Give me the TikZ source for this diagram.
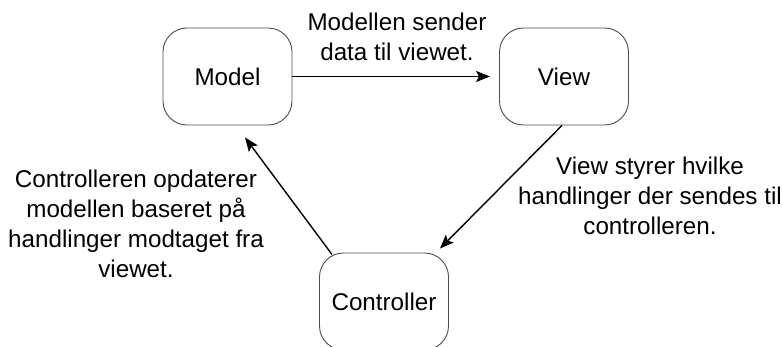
\documentclass[tikz,border=0pt]{standalone}
\usepackage{fontspec}
\setmainfont{Liberation Sans}
\usetikzlibrary{positioning,calc,arrows.meta}

\begin{document}
\begin{tikzpicture}[x=1pt, y=-1pt, font=\fontsize{24.2}{30}\selectfont,
    box/.style={draw=black!70, line width=0.9pt, rounded corners=24pt,
        minimum width=129pt, minimum height=97pt},
    flow/.style={-{Stealth[length=14pt,width=11pt,inset=3pt]}, line width=1.4pt},
    note/.style={align=center, inner sep=0pt}]
    \useasboundingbox (0,0) rectangle (782,347);

    % the three parts
    \node[box] (model) at (227.5,76.5) {Model};
    \node[box] (view)  at (564,76.5)   {View};
    \node[box] (ctrl)  at (384,301.5)  {Controller};

    % arrows between them
    \draw[flow] (model.east) -- ([xshift=-9pt]view.west);
    \draw[flow] ([xshift=-2pt]view.south) -- ($(ctrl.north east)+(-9,-4)$);
    \draw[flow] ($(ctrl.north west)+(13,2)$) -- ($(model.south)+(17.5,12)$);

    % what each arrow means
    \node[note] (sends)   at (397,37)    {Modellen sender\\data til viewet.};
    \node[note] (actions) at (650,196)   {View styrer hvilke\\handlinger der sendes til\\controlleren.};
    \node[note] (updates) at (136,224)   {Controlleren opdaterer\\modellen baseret på\\handlinger modtaget fra\\viewet.};
\end{tikzpicture}
\end{document}
